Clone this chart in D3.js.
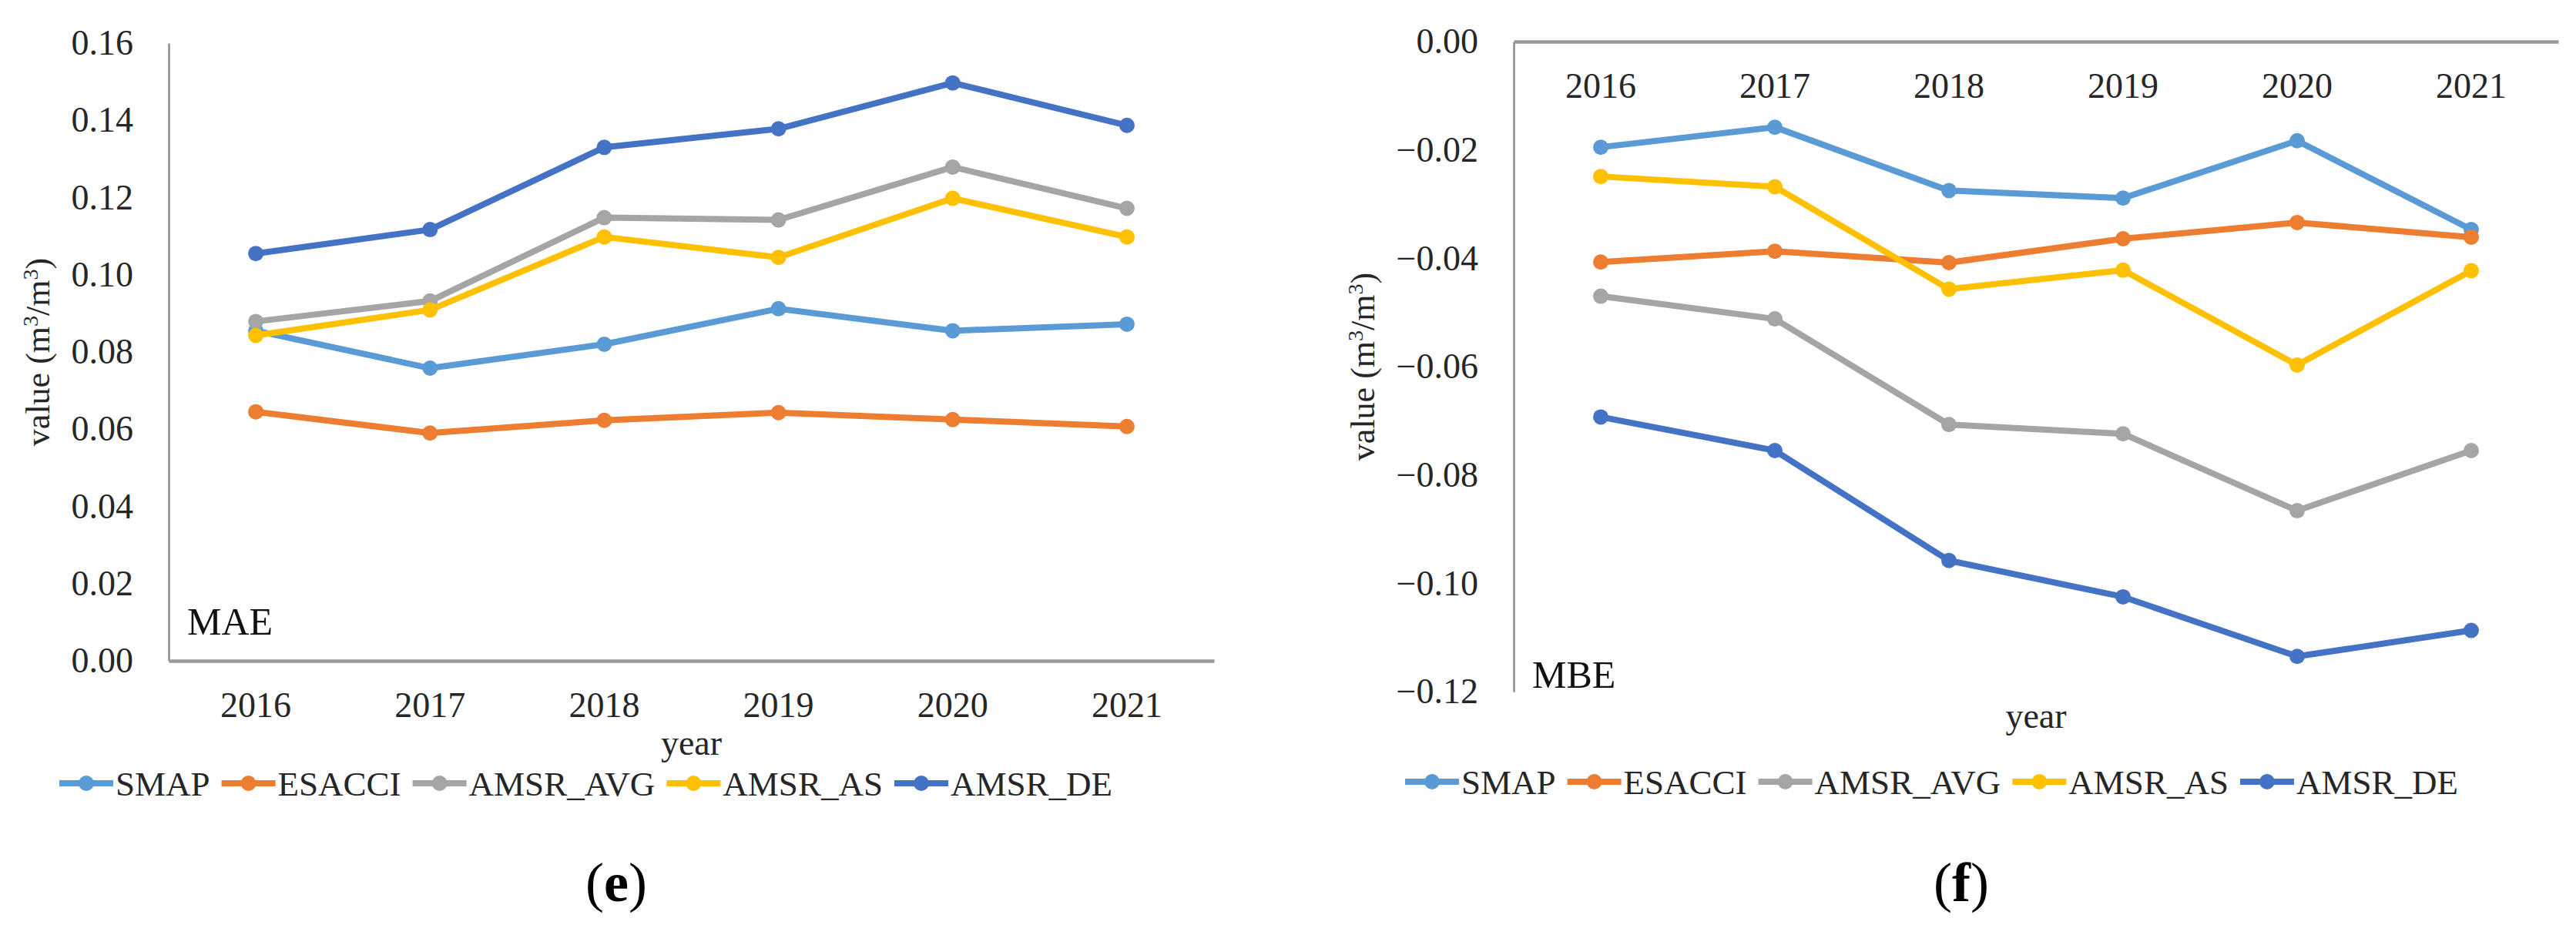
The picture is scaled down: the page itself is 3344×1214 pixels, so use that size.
<!DOCTYPE html>
<html>
<head>
<meta charset="utf-8">
<script src="https://cdn.jsdelivr.net/npm/d3@7"></script>
<style>
  body { margin: 0; background: #fff; }
  svg text { font-family: "Liberation Serif", "Times New Roman", serif; }
</style>
</head>
<body>
<div id="chart"></div>
<script>
const years = ["2016", "2017", "2018", "2019", "2020", "2021"];
const seriesNames = ["SMAP", "ESACCI", "AMSR_AVG", "AMSR_AS", "AMSR_DE"];

// MAE panel (e)
const maeSMAP    = [0.0855, 0.0758, 0.0820, 0.0912, 0.0855, 0.0872];
const maeESACCI  = [0.0645, 0.0590, 0.0623, 0.0643, 0.0625, 0.0607];
const maeAVG     = [0.0879, 0.0932, 0.1148, 0.1142, 0.1279, 0.1172];
const maeAS      = [0.0843, 0.0909, 0.1098, 0.1045, 0.1198, 0.1098];
const maeDE      = [0.1055, 0.1117, 0.1330, 0.1378, 0.1497, 0.1387];
const maeTicks   = [0, 0.02, 0.04, 0.06, 0.08, 0.10, 0.12, 0.14, 0.16];

// MBE panel (f)
const mbeSMAP    = [-0.0195, -0.0158, -0.0275, -0.0289, -0.0183, -0.0347];
const mbeESACCI  = [-0.0407, -0.0387, -0.0408, -0.0364, -0.0334, -0.0361];
const mbeAVG     = [-0.0470, -0.0512, -0.0707, -0.0724, -0.0866, -0.0755];
const mbeAS      = [-0.0249, -0.0268, -0.0457, -0.0422, -0.0597, -0.0423];
const mbeDE      = [-0.0693, -0.0755, -0.0958, -0.1025, -0.1135, -0.1087];
const mbeTicks   = [0, -0.02, -0.04, -0.06, -0.08, -0.10, -0.12];

const colors = ["#5B9BD5", "#ED7D31", "#A5A5A5", "#FFC000", "#4472C4"];
const fontSize = 46;
const serif = "'Liberation Serif', 'Times New Roman', serif";

const svg = d3.select("#chart").append("svg")
  .attr("width", 3344)
  .attr("height", 1214);

svg.append("rect").attr("width", 3344).attr("height", 1214).attr("fill", "#fff");

function drawPanel(p) {
  const g = svg.append("g");

  const x = d3.scaleBand().domain(years).range([p.x0, p.x1]);
  const y = d3.scaleLinear().domain(p.domain).range([p.yBottom, p.yTop]);
  const fmt = d3.format(".2f");

  // y axis (vertical line + labels)
  const yAxis = g.append("g")
    .attr("transform", `translate(${p.x0},0)`)
    .call(d3.axisLeft(y).tickValues(p.ticks).tickFormat(fmt).tickSize(0).tickSizeOuter(0).tickPadding(46))
    .attr("font-family", serif);
  yAxis.select(".domain").attr("stroke", "#8c8c8c").attr("stroke-width", 2.5);
  yAxis.selectAll("text").attr("font-size", fontSize).attr("fill", "#262626");

  // category axis at value 0
  const xAxis = g.append("g")
    .attr("transform", `translate(0,${y(0)})`)
    .call(d3.axisBottom(x).tickSize(0).tickSizeOuter(0).tickPadding(40))
    .attr("font-family", serif);
  xAxis.select(".domain").attr("stroke", "#9a9a9a").attr("stroke-width", 4.5);
  xAxis.selectAll("text").attr("font-size", fontSize).attr("fill", "#262626");

  // lines + markers
  const line = d3.line()
    .x((d, i) => x(years[i]) + x.bandwidth() / 2)
    .y(d => y(d));

  p.series.forEach((vals, k) => {
    g.append("path")
      .datum(vals)
      .attr("d", line)
      .attr("fill", "none")
      .attr("stroke", colors[k])
      .attr("stroke-width", 8)
      .attr("stroke-linejoin", "round");
    g.selectAll(null)
      .data(vals)
      .enter()
      .append("circle")
      .attr("cx", (d, i) => x(years[i]) + x.bandwidth() / 2)
      .attr("cy", d => y(d))
      .attr("r", 10)
      .attr("fill", colors[k]);
  });

  // metric label inside plot
  g.append("text")
    .attr("x", p.x0 + 24)
    .attr("y", p.labelY)
    .attr("font-size", 50)
    .attr("fill", "#111")
    .text(p.label);

  // y title
  const yt = g.append("text")
    .attr("transform", `translate(${p.titleX},${(p.yTop + p.yBottom) / 2}) rotate(-90)`)
    .attr("text-anchor", "middle")
    .attr("font-size", 44)
    .attr("fill", "#262626");
  yt.append("tspan").text("value (m");
  yt.append("tspan").attr("baseline-shift", "super").attr("font-size", 28).text("3");
  yt.append("tspan").text("/m");
  yt.append("tspan").attr("baseline-shift", "super").attr("font-size", 28).text("3");
  yt.append("tspan").text(")");

  // x title
  g.append("text")
    .attr("x", (p.x0 + p.x1) / 2)
    .attr("y", p.yearY)
    .attr("text-anchor", "middle")
    .attr("font-size", fontSize)
    .attr("fill", "#262626")
    .text("year");

  // legend
  const leg = g.append("g").attr("transform", `translate(${p.legendX},${p.legendY})`);
  let cx = 0;
  seriesNames.forEach((name, k) => {
    const item = leg.append("g").attr("transform", `translate(${cx},0)`);
    item.append("line")
      .attr("x1", 0).attr("x2", 70).attr("y1", 0).attr("y2", 0)
      .attr("stroke", colors[k]).attr("stroke-width", 8);
    item.append("circle").attr("cx", 35).attr("cy", 0).attr("r", 10).attr("fill", colors[k]);
    const t = item.append("text")
      .attr("x", 73)
      .attr("y", 16)
      .attr("font-size", 45)
      .attr("fill", "#262626")
      .text(name);
    cx += 73 + t.node().getComputedTextLength() + 15;
  });

  // panel letter
  const pl = svg.append("text")
    .attr("x", p.letterX)
    .attr("y", 1170)
    .attr("text-anchor", "middle")
    .attr("font-size", 72)
    .attr("fill", "#000");
  pl.append("tspan").text("(");
  pl.append("tspan").attr("font-weight", "bold").text(p.letter);
  pl.append("tspan").text(")");
}

drawPanel({
  x0: 219, x1: 1576, yTop: 56, yBottom: 858,
  domain: [0, 0.16], ticks: maeTicks,
  series: [maeSMAP, maeESACCI, maeAVG, maeAS, maeDE],
  label: "MAE", labelY: 824,
  titleX: 64, yearY: 980,
  legendX: 77, legendY: 1017,
  letter: "e", letterX: 800
});

drawPanel({
  x0: 1965, x1: 3321, yTop: 54, yBottom: 898,
  domain: [-0.12, 0], ticks: mbeTicks,
  series: [mbeSMAP, mbeESACCI, mbeAVG, mbeAS, mbeDE],
  label: "MBE", labelY: 893,
  titleX: 1784, yearY: 945,
  legendX: 1824, legendY: 1015,
  letter: "f", letterX: 2546
});
</script>
</body>
</html>
